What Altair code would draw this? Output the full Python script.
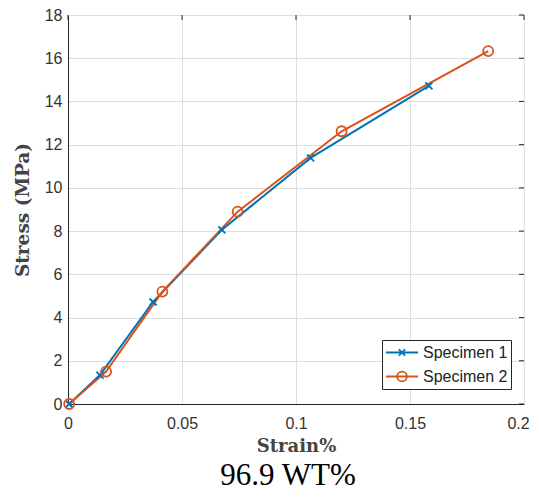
import altair as alt
import pandas as pd

# ---- data ----
series_names = ["Specimen 1", "Specimen 2"]
strain_1 = [0.0005, 0.014, 0.0373, 0.0675, 0.1064, 0.1583]
stress_1 = [0.0, 1.34, 4.72, 8.06, 11.39, 14.72]
strain_2 = [0.0005, 0.0167, 0.0414, 0.0744, 0.1200, 0.1843]
stress_2 = [0.0, 1.50, 5.20, 8.90, 12.62, 16.33]
x_ticks = [0, 0.05, 0.1, 0.15, 0.2]
y_ticks = [0, 2, 4, 6, 8, 10, 12, 14, 16, 18]

colors = ["#0072BD", "#D95319"]
axis_color = "#262626"
grid_color = "#dedede"

df = pd.concat([
    pd.DataFrame({"strain": strain_1, "stress": stress_1, "series": series_names[0], "order": range(len(strain_1))}),
    pd.DataFrame({"strain": strain_2, "stress": stress_2, "series": series_names[1], "order": range(len(strain_2))}),
], ignore_index=True)

W, H = 456, 389

xscale = alt.Scale(domain=[0, 0.2], nice=False, zero=False)
yscale = alt.Scale(domain=[0, 18], nice=False, zero=False)

x_enc = alt.X("strain:Q", scale=xscale, title="Strain%",
              axis=alt.Axis(values=x_ticks, format="~g", ticks=False,
                            labelFont="Liberation Sans", labelFontSize=16, labelColor="#333333",
                            labelPadding=11, domainColor=axis_color, gridColor=grid_color,
                            labelOffset={"expr": "datum.value >= 0.2 ? -6 : 0"},
                            titleFont="DejaVu Serif", titleFontSize=18, titleFontWeight="bold",
                            titleColor="#444444", titlePadding=6, labelFlush=False))
y_enc = alt.Y("stress:Q", scale=yscale, title="Stress (MPa)",
              axis=alt.Axis(values=y_ticks, ticks=False,
                            labelFont="Liberation Sans", labelFontSize=16, labelColor="#333333",
                            labelPadding=6, domainColor=axis_color, gridColor=grid_color,
                            titleFont="DejaVu Serif", titleFontSize=18.5, titleFontWeight="bold",
                            titleColor="#444444", titlePadding=12, labelFlush=False))

color_scale = alt.Scale(domain=series_names, range=colors)

lines = alt.Chart(df).mark_line(strokeWidth=2).encode(
    x=x_enc, y=y_enc,
    color=alt.Color("series:N", scale=color_scale, legend=None),
    order="order:Q",
)

points = alt.Chart(df).mark_point(filled=False, strokeWidth=1.8, opacity=1).encode(
    x="strain:Q", y="stress:Q",
    color=alt.Color("series:N", scale=color_scale, legend=None),
    shape=alt.Shape("series:N", scale=alt.Scale(domain=series_names,
                                                range=["M-1,-1L1,1M-1,1L1,-1", "circle"]), legend=None),
    size=alt.Size("series:N", scale=alt.Scale(domain=series_names, range=[49, 100]), legend=None),
)

legend_paths = [
    "M-1,0L1,0M-0.2,-0.2L0.2,0.2M-0.2,0.2L0.2,-0.2",
    "M-1,0L1,0M-0.3,0A0.3,0.3,0,1,1,0.3,0A0.3,0.3,0,1,1,-0.3,0",
]
legend_layer = alt.Chart(df).transform_filter("false").mark_point(filled=False, strokeWidth=1.8, opacity=1).encode(
    x="strain:Q", y="stress:Q",
    color=alt.Color("series:N", scale=alt.Scale(domain=series_names, range=colors), title=None,
                    legend=alt.Legend(orient="none", legendX=314, legendY=325, title=None,
                                      symbolSize=1024, clipHeight=19, rowPadding=5,
                                      labelFont="Liberation Sans", labelFontSize=16, labelColor="#222222",
                                      labelOffset=4, strokeColor=axis_color, fillColor="white",
                                      padding=3, symbolStrokeWidth=1.8, symbolFillColor="transparent")),
    shape=alt.Shape("series:N", scale=alt.Scale(domain=series_names, range=legend_paths), title=None,
                    legend=alt.Legend(orient="none", legendX=314, legendY=325, title=None)),
)

right_ticks = alt.Chart(pd.DataFrame({"t": y_ticks})).mark_rule(color=axis_color, strokeWidth=1).encode(
    y=alt.Y("t:Q", scale=yscale), x=alt.value(W - 5), x2=alt.value(W))
top_ticks = alt.Chart(pd.DataFrame({"t": x_ticks})).mark_rule(color=axis_color, strokeWidth=1).encode(
    x=alt.X("t:Q", scale=xscale), y=alt.value(0), y2=alt.value(5))

chart = alt.layer(lines, right_ticks, top_ticks, points, legend_layer).resolve_scale(
    color="independent", shape="independent", size="independent"
).properties(
    width=W, height=H,
    autosize=alt.AutoSizeParams(type="none"),
    padding={"left": 60, "top": 7, "right": 7, "bottom": 87},
    title=alt.TitleParams(text="96.9 WT%", orient="bottom", font="Liberation Serif", fontSize=31,
                          fontWeight="normal", color="black", offset=6, dx=-8, anchor="middle"),
).configure_view(stroke=axis_color, strokeWidth=1).configure(background="white")

chart.save("out.html", embed_options={"renderer": "svg", "actions": False})
